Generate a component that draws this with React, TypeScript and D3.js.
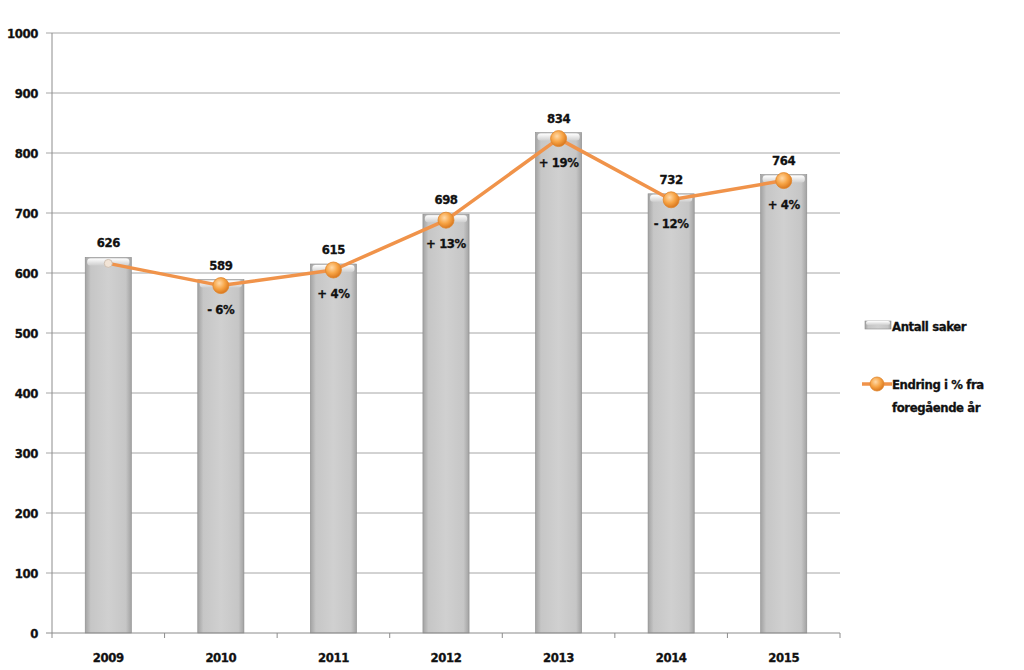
import * as d3 from "d3";
import { useEffect, useRef } from "react";

const years = ["2009", "2010", "2011", "2012", "2013", "2014", "2015"];
const cases = [626, 589, 615, 698, 834, 732, 764];
// line plotted slightly below the bar tops
const changeLine = [616, 579, 605, 688, 824, 722, 754];
const changeLabels = ["", "- 6%", "+ 4%", "+ 13%", "+ 19%", "- 12%", "+ 4%"];
const yTicks = [0, 100, 200, 300, 400, 500, 600, 700, 800, 900, 1000];

const FONT = "'DejaVu Sans Condensed', 'DejaVu Sans', sans-serif";

export default function App() {
  const svgRef = useRef<SVGSVGElement>(null);

  useEffect(() => {
    const svg = d3.select(svgRef.current);
    svg.selectAll("*").remove();

    const left = 52, right = 840, top = 33, bottom = 633;

    const defs = svg.append("defs");
    const barGrad = defs.append("linearGradient").attr("id", "barGrad").attr("x1", "0").attr("x2", "1").attr("y1", "0").attr("y2", "0");
    barGrad.append("stop").attr("offset", "0%").attr("stop-color", "#a2a2a2");
    barGrad.append("stop").attr("offset", "12%").attr("stop-color", "#c6c6c6");
    barGrad.append("stop").attr("offset", "50%").attr("stop-color", "#d0d0d0");
    barGrad.append("stop").attr("offset", "88%").attr("stop-color", "#c6c6c6");
    barGrad.append("stop").attr("offset", "100%").attr("stop-color", "#a2a2a2");

    const capGrad = defs.append("linearGradient").attr("id", "capGrad").attr("x1", "0").attr("x2", "0").attr("y1", "0").attr("y2", "1");
    capGrad.append("stop").attr("offset", "0%").attr("stop-color", "#ffffff");
    capGrad.append("stop").attr("offset", "100%").attr("stop-color", "#cfcfcf");

    const dotGrad = defs.append("radialGradient").attr("id", "dotGrad").attr("cx", "40%").attr("cy", "35%").attr("r", "65%");
    dotGrad.append("stop").attr("offset", "0%").attr("stop-color", "#ffd9a8");
    dotGrad.append("stop").attr("offset", "55%").attr("stop-color", "#f7a445");
    dotGrad.append("stop").attr("offset", "100%").attr("stop-color", "#d9781f");

    const x = d3.scaleBand().domain(years).range([left, right]).paddingInner(0.59).paddingOuter(0.295);
    const xCat = d3.scaleBand().domain(years).range([left, right]);
    const y = d3.scaleLinear().domain([0, 1000]).range([bottom, top]);

    const boldText = (sel: any) =>
      sel.attr("font-family", FONT)
        .attr("font-weight", "bold")
        .attr("font-size", 13)
        .attr("letter-spacing", -0.4)
        .attr("fill", "#111")
        .attr("stroke", "#111")
        .attr("stroke-width", 0.3);

    // gridlines
    svg.append("g")
      .selectAll("line")
      .data(yTicks.filter((t) => t > 0))
      .join("line")
      .attr("x1", left - 6)
      .attr("x2", right)
      .attr("y1", (d) => y(d))
      .attr("y2", (d) => y(d))
      .attr("stroke", "#a6a6a6")
      .attr("stroke-width", 1);

    // y axis labels
    svg.append("g")
      .selectAll("text")
      .data(yTicks)
      .join("text")
      .attr("x", 38)
      .attr("y", (d) => y(d) + 5)
      .attr("text-anchor", "end")
      .call(boldText)
      .text((d) => d);

    // bars
    const bars = svg.append("g").selectAll("g").data(years).join("g");
    bars.append("rect")
      .attr("x", (d) => x(d)!)
      .attr("y", (d, i) => y(cases[i]))
      .attr("width", x.bandwidth())
      .attr("height", (d, i) => bottom - y(cases[i]))
      .attr("fill", "url(#barGrad)")
      .attr("stroke", "#8c8c8c")
      .attr("stroke-width", 0.6);
    bars.append("rect")
      .attr("x", (d) => x(d)! + 2)
      .attr("y", (d, i) => y(cases[i]) + 1)
      .attr("width", x.bandwidth() - 4)
      .attr("height", 7)
      .attr("rx", 3)
      .attr("fill", "url(#capGrad)");

    // axes
    svg.append("line").attr("x1", left).attr("x2", left).attr("y1", top).attr("y2", bottom).attr("stroke", "#8c8c8c");
    svg.append("line").attr("x1", left - 6).attr("x2", right).attr("y1", bottom).attr("y2", bottom).attr("stroke", "#8c8c8c");
    svg.append("g")
      .selectAll("line")
      .data(years.concat(["end"]))
      .join("line")
      .attr("x1", (d, i) => left + i * xCat.step())
      .attr("x2", (d, i) => left + i * xCat.step())
      .attr("y1", bottom)
      .attr("y2", bottom + 5)
      .attr("stroke", "#8c8c8c");

    svg.append("g")
      .selectAll("text")
      .data(years)
      .join("text")
      .attr("x", (d) => xCat(d)! + xCat.bandwidth() / 2)
      .attr("y", 662)
      .attr("text-anchor", "middle")
      .call(boldText)
      .text((d) => d);

    // value labels
    svg.append("g")
      .selectAll("text")
      .data(years)
      .join("text")
      .attr("x", (d) => x(d)! + x.bandwidth() / 2)
      .attr("y", (d, i) => y(cases[i]) - 10)
      .attr("text-anchor", "middle")
      .call(boldText)
      .text((d, i) => cases[i]);

    // line
    const cx = (d: string) => x(d)! + x.bandwidth() / 2;
    const line = d3.line<number>().x((d, i) => cx(years[i])).y((d) => y(d));
    svg.append("path")
      .datum(changeLine)
      .attr("d", line)
      .attr("fill", "none")
      .attr("stroke", "#f0934a")
      .attr("stroke-width", 3.5)
      .attr("stroke-linejoin", "round");

    svg.append("g")
      .selectAll("circle")
      .data(changeLine)
      .join("circle")
      .attr("cx", (d, i) => cx(years[i]))
      .attr("cy", (d) => y(d))
      .attr("r", (d, i) => (i === 0 ? 4 : 8))
      .attr("fill", (d, i) => (i === 0 ? "#f2e4d6" : "url(#dotGrad)"))
      .attr("stroke", (d, i) => (i === 0 ? "#c8b8a8" : "#e0862e"))
      .attr("stroke-width", 0.8);

    svg.append("g")
      .selectAll("text")
      .data(changeLabels)
      .join("text")
      .attr("x", (d, i) => cx(years[i]))
      .attr("y", (d, i) => y(changeLine[i]) + 28)
      .attr("text-anchor", "middle")
      .call(boldText)
      .text((d) => d);

    // legend
    const lg = svg.append("g");
    lg.append("rect").attr("x", 865).attr("y", 321).attr("width", 26).attr("height", 8).attr("fill", "url(#barGrad)").attr("stroke", "#8c8c8c").attr("stroke-width", 0.6);
    lg.append("rect").attr("x", 866).attr("y", 321).attr("width", 24).attr("height", 4).attr("rx", 2).attr("fill", "url(#capGrad)");
    lg.append("text").attr("x", 892).attr("y", 331).call(boldText).text("Antall saker");
    lg.append("line").attr("x1", 862).attr("x2", 892).attr("y1", 384).attr("y2", 384).attr("stroke", "#f0934a").attr("stroke-width", 3.5);
    lg.append("circle").attr("cx", 877).attr("cy", 384).attr("r", 7).attr("fill", "url(#dotGrad)").attr("stroke", "#e0862e").attr("stroke-width", 0.8);
    lg.append("text").attr("x", 892).attr("y", 389).call(boldText).text("Endring i % fra");
    lg.append("text").attr("x", 892).attr("y", 412).call(boldText).text("foregående år");
  }, []);

  return (
    <div style={{ position: "absolute", left: 0, top: 0 }}>
      <svg ref={svgRef} width={1024} height={670} style={{ display: "block", background: "#fff" }}></svg>
    </div>
  );
}
